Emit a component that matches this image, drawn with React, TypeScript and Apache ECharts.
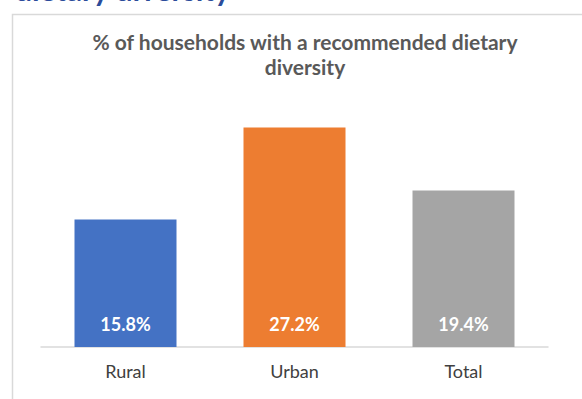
import React, { useEffect, useRef } from "react";
import * as echarts from "echarts";

const categories = ["Rural", "Urban", "Total"];
const values = [15.8, 27.2, 19.4];
const barColors = ["#4472C4", "#ED7D31", "#A5A5A5"];
const chartTitle = "% of households with a recommended dietary\ndiversity";
const headerText = "dietary diversity";

export default function App() {
  const ref = useRef<HTMLDivElement>(null);
  useEffect(() => {
    if (!ref.current) return;
    const chart = echarts.init(ref.current, undefined, { renderer: "svg" });
    chart.setOption({
      animation: false,
      backgroundColor: "#ffffff",
      graphic: [
        {
          type: "text",
          x: 15,
          y: -11,
          style: {
            text: headerText,
            font: "bold 30px Lato",
            fill: "#2B4C9B",
            textAlign: "left",
            verticalAlign: "middle",
          },
        },
        {
          type: "rect",
          shape: { x: 12.5, y: 14.5, width: 620, height: 420 },
          style: { fill: "none", stroke: "#D9D9D9", lineWidth: 1.5 },
        },
        {
          type: "text",
          x: 305,
          y: 54,
          style: {
            text: chartTitle,
            font: "bold 21px Lato",
            lineHeight: 25,
            fill: "#595959",
            textAlign: "center",
            verticalAlign: "middle",
          },
        },
      ],
      grid: { left: 41, right: 34, top: 105, bottom: 52 },
      xAxis: {
        type: "category",
        data: categories,
        axisLine: { lineStyle: { color: "#D9D9D9", width: 1.5 } },
        axisTick: { show: false },
        axisLabel: {
          color: "#404040",
          fontSize: 18,
          fontFamily: "Lato",
          margin: 15,
        },
      },
      yAxis: {
        type: "value",
        min: 0,
        max: 30,
        show: false,
        splitLine: { show: false },
      },
      series: [
        {
          type: "bar",
          barWidth: 102,
          data: values.map((v, i) => ({ value: v, itemStyle: { color: barColors[i] } })),
          label: {
            show: true,
            position: "insideBottom",
            distance: 14,
            color: "#ffffff",
            fontSize: 18,
            fontWeight: "bold",
            fontFamily: "Lato",
            formatter: (p: any) => p.value.toFixed(1) + "%",
          },
        },
      ],
    });
    return () => chart.dispose();
  }, []);
  return (
    <div
      ref={ref}
      style={{ position: "fixed", left: 0, top: 0, width: 582, height: 399 }}
    />
  );
}
